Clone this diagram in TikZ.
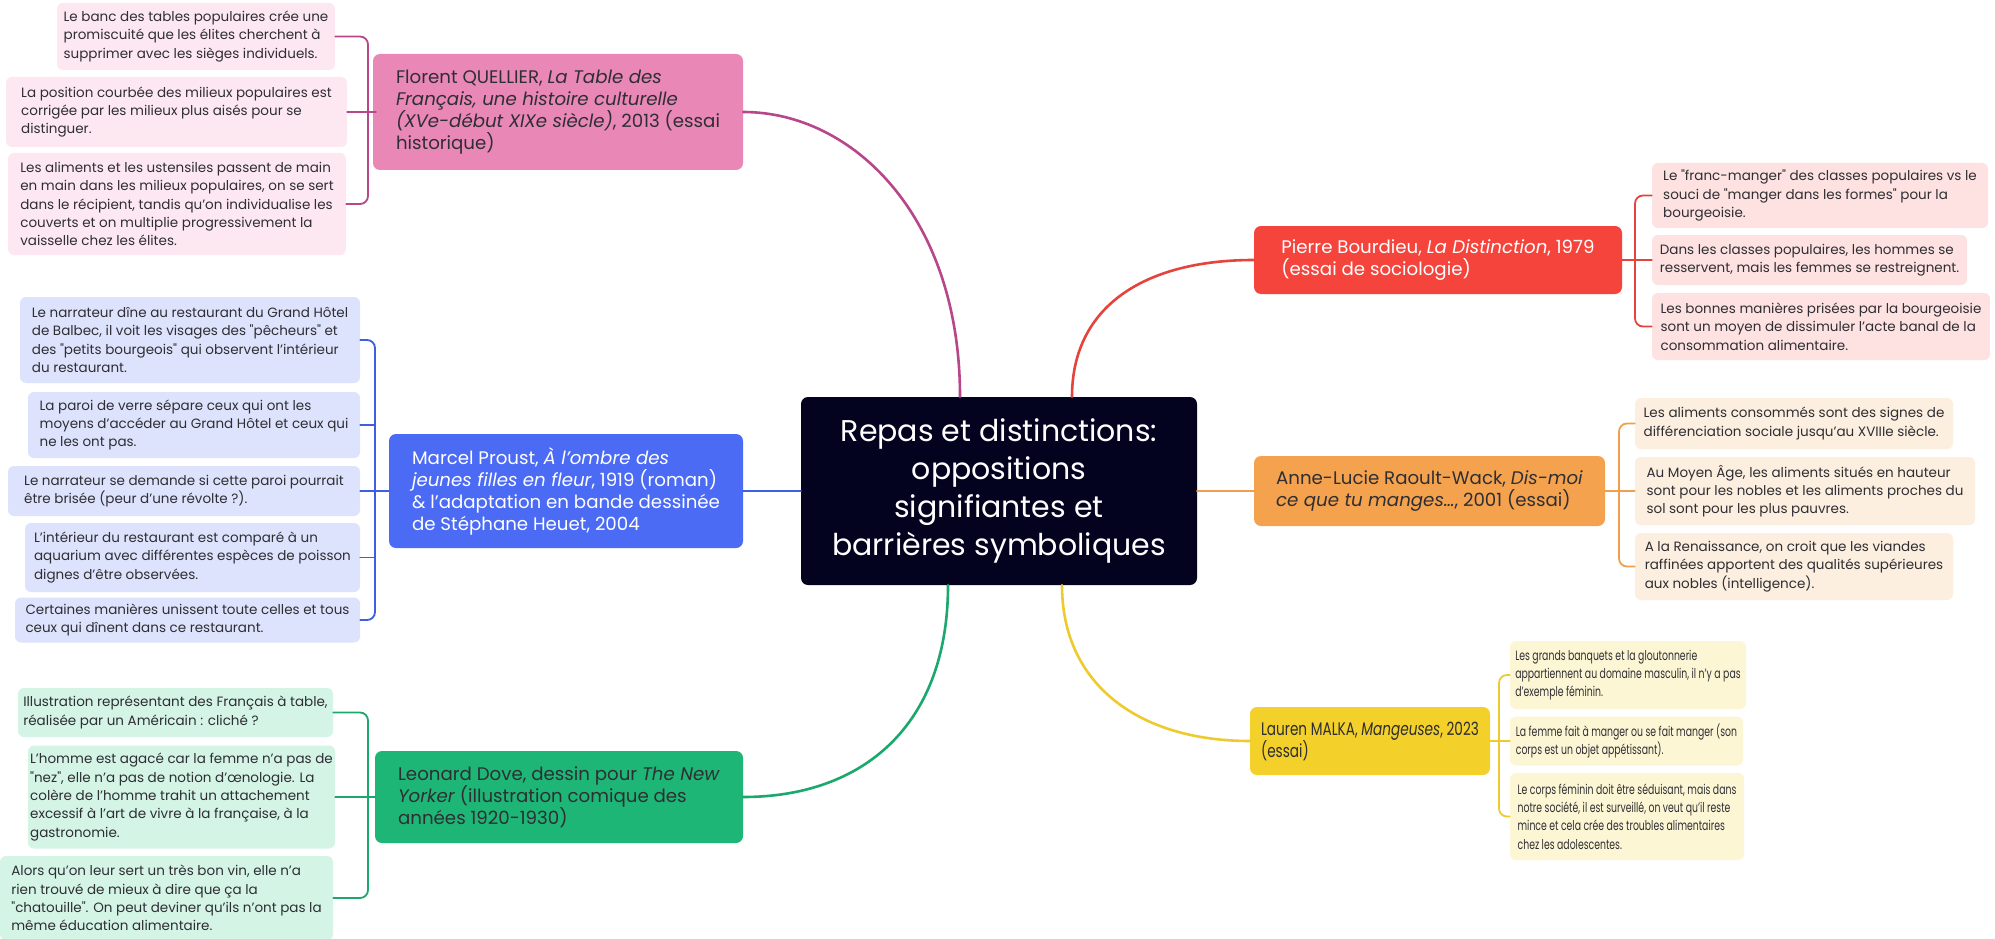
\documentclass[tikz,border=0pt]{standalone}
\usepackage{fontspec}
\setmainfont{Poppins}[Ligatures=TeXOff]
\newfontfamily\narrowfont{Poppins}[FakeStretch=0.69,Ligatures=TeXOff]
\newfontfamily\halfnarrow{Poppins}[FakeStretch=0.75,Ligatures=TeXOff]
\definecolor{hubfill}{HTML}{03021F}
\definecolor{leaftext}{HTML}{2E2E33}
\definecolor{qmain}{HTML}{E987B7}\definecolor{qleaf}{HTML}{FDE8F2}\definecolor{qline}{HTML}{B8468A}
\definecolor{pmain}{HTML}{4B6BF5}\definecolor{pleaf}{HTML}{DDE3FC}\definecolor{pline}{HTML}{3E5FE0}
\definecolor{dmain}{HTML}{1DB676}\definecolor{dleaf}{HTML}{D4F4E6}\definecolor{dline}{HTML}{1AA86C}
\definecolor{bmain}{HTML}{F5443C}\definecolor{bleaf}{HTML}{FDE2E1}\definecolor{bline}{HTML}{E5443D}
\definecolor{rmain}{HTML}{F5A24E}\definecolor{rleaf}{HTML}{FDEFE0}\definecolor{rline}{HTML}{F0A04C}
\definecolor{mmain}{HTML}{F3D02A}\definecolor{mleaf}{HTML}{FDF6D5}\definecolor{mline}{HTML}{EDCB2E}
\begin{document}
\begin{tikzpicture}[x=1pt,y=-1pt,line cap=round,line join=round,
	wh/.style 2 args={minimum width=#1pt,minimum height=#2pt},
	hub/.style={fill=hubfill,text=white,rounded corners=7pt,align=center,inner sep=0pt,font=\fontsize{30}{37.7}\selectfont},
	topic/.style={rounded corners=7pt,align=left,inner sep=0pt,font=\fontsize{18.2}{22}\selectfont},
	leaf/.style={rounded corners=6pt,align=left,inner sep=0pt,text=leaftext,font=\fontsize{13.5}{18.3}\selectfont},
	thin/.style={font=\narrowfont\fontsize{13.5}{18.3}\selectfont},
	branch/.style={line width=2.6pt},
	twig/.style={line width=1.8pt,rounded corners=8pt}]
	\fill[white] (0,0) rectangle (1995,939);
	\useasboundingbox (0,0) rectangle (1995,939);

	\node[hub,wh={396}{188}] (hub) at (999,491) {Repas et distinctions:\\oppositions\\signifiantes et\\barrières symboliques};

	\node[topic,fill=qmain,text=leaftext,wh={370}{116}] (quel) at (558,112) {Florent QUELLIER, \textit{La Table des}\\\textit{Français, une histoire culturelle}\\\textit{(XVe-début XIXe siècle)}, 2013 (essai\\historique)};
	\node[leaf,fill=qleaf,wh={278}{67}] (q1) at (196,36.5) {Le banc des tables populaires crée une\\promiscuité que les élites cherchent à\\supprimer avec les sièges individuels.};
	\node[leaf,fill=qleaf,wh={341}{70}] (q2) at (176.5,112) {La position courbée des milieux populaires est\\corrigée par les milieux plus aisés pour se\\distinguer.};
	\node[leaf,fill=qleaf,wh={338}{102}] (q3) at (177,204) {Les aliments et les ustensiles passent de main\\en main dans les milieux populaires, on se sert\\dans le récipient, tandis qu’on individualise les\\couverts et on multiplie progressivement la\\vaisselle chez les élites.};

	\node[topic,fill=pmain,text=white,wh={354}{114}] (prou) at (566,491) {Marcel Proust, \textit{À l’ombre des}\\\textit{jeunes filles en fleur}, 1919 (roman)\\\& l’adaptation en bande dessinée\\de Stéphane Heuet, 2004};
	\node[leaf,fill=pleaf,wh={340}{86}] (p1) at (190,340) {Le narrateur dîne au restaurant du Grand Hôtel\\de Balbec, il voit les visages des "pêcheurs" et\\des "petits bourgeois" qui observent l’intérieur\\du restaurant.};
	\node[leaf,fill=pleaf,wh={332}{66}] (p2) at (194,425) {La paroi de verre sépare ceux qui ont les\\moyens d’accéder au Grand Hôtel et ceux qui\\ne les ont pas.};
	\node[leaf,fill=pleaf,wh={352}{50}] (p3) at (184,491) {Le narrateur se demande si cette paroi pourrait\\être brisée (peur d’une révolte ?).};
	\node[leaf,fill=pleaf,wh={335}{69}] (p4) at (192.5,557.5) {L’intérieur du restaurant est comparé à un\\aquarium avec différentes espèces de poisson\\dignes d’être observées.};
	\node[leaf,fill=pleaf,wh={345}{45}] (p5) at (187.5,620) {Certaines manières unissent toute celles et tous\\ceux qui dînent dans ce restaurant.};

	\node[topic,fill=dmain,text=leaftext,wh={368}{92}] (dove) at (559,797) {Leonard Dove, dessin pour \textit{The New}\\\textit{Yorker} (illustration comique des\\années 1920-1930)};
	\node[leaf,fill=dleaf,wh={315}{49}] (d1) at (175.5,712.5) {Illustration représentant des Français à table,\\réalisée par un Américain : cliché ?};
	\node[leaf,fill=dleaf,wh={307}{103}] (d2) at (181.5,797) {L’homme est agacé car la femme n’a pas de\\"nez", elle n’a pas de notion d’œnologie. La\\colère de l’homme trahit un attachement\\excessif à l’art de vivre à la française, à la\\gastronomie.};
	\node[leaf,fill=dleaf,wh={333}{84}] (d3) at (166.5,898) {Alors qu’on leur sert un très bon vin, elle n’a\\rien trouvé de mieux à dire que ça la\\"chatouille". On peut deviner qu’ils n’ont pas la\\même éducation alimentaire.};

	\node[topic,fill=bmain,text=white,wh={368}{68}] (bour) at (1438,260) {Pierre Bourdieu, \textit{La Distinction}, 1979\\(essai de sociologie)};
	\node[leaf,fill=bleaf,wh={336}{65}] (b1) at (1820,195.5) {Le "franc-manger" des classes populaires vs le\\souci de "manger dans les formes" pour la\\bourgeoisie.};
	\node[leaf,fill=bleaf,wh={315}{50}] (b2) at (1809.5,260) {Dans les classes populaires, les hommes se\\resservent, mais les femmes se restreignent.};
	\node[leaf,fill=bleaf,wh={338}{67}] (b3) at (1821,326.5) {Les bonnes manières prisées par la bourgeoisie\\sont un moyen de dissimuler l’acte banal de la\\consommation alimentaire.};

	\node[topic,fill=rmain,text=leaftext,wh={351}{70}] (raou) at (1429.5,491) {Anne-Lucie Raoult-Wack, \textit{Dis-moi}\\\textit{ce que tu manges…}, 2001 (essai)};
	\node[leaf,fill=rleaf,wh={318}{51}] (r1) at (1794,423.5) {Les aliments consommés sont des signes de\\différenciation sociale jusqu’au XVIIIe siècle.};
	\node[leaf,fill=rleaf,wh={340}{68}] (r2) at (1805,491) {Au Moyen Âge, les aliments situés en hauteur\\sont pour les nobles et les aliments proches du\\sol sont pour les plus pauvres.};
	\node[leaf,fill=rleaf,wh={318}{67}] (r3) at (1794,566.5) {A la Renaissance, on croit que les viandes\\raffinées apportent des qualités supérieures\\aux nobles (intelligence).};

	\node[topic,fill=mmain,text=leaftext,wh={240}{68},font=\halfnarrow\fontsize{18.2}{22}\selectfont] (malk) at (1370,741) {Lauren MALKA, \textit{Mangeuses}, 2023\\(essai)};
	\node[leaf,thin,fill=mleaf,wh={236}{68}] (m1) at (1628,675) {Les grands banquets et la gloutonnerie\\appartiennent au domaine masculin, il n’y a pas\\d’exemple féminin.};
	\node[leaf,thin,fill=mleaf,wh={233}{49}] (m2) at (1626.5,741) {La femme fait à manger ou se fait manger (son\\corps est un objet appétissant).};
	\node[leaf,thin,fill=mleaf,wh={234}{87}] (m3) at (1627,816.5) {Le corps féminin doit être séduisant, mais dans\\notre société, il est surveillé, on veut qu’il reste\\mince et cela crée des troubles alimentaires\\chez les adolescentes.};

	\draw[branch,qline] ([xshift=-39pt]hub.north) .. controls +(0,-180) and +(110,0) .. (quel.east);
	\draw[branch,pline] (hub.west) -- (prou.east);
	\draw[branch,dline] ([xshift=-51pt]hub.south) .. controls +(0,140) and +(120,0) .. (dove.east);
	\draw[branch,bline] ([xshift=73pt]hub.north) .. controls +(0,-90) and +(-110,0) .. (bour.west);
	\draw[branch,rline] (hub.east) -- (raou.west);
	\draw[branch,mline] ([xshift=63pt]hub.south) .. controls +(0,100) and +(-110,0) .. (malk.west);

	\coordinate (qs) at (368,112);
	\draw[twig,qline] (q1.east) -| (qs) |- (q3.east);
	\draw[twig,qline] (q2.east) -- (qs) -- (quel.west);

	\coordinate (ps) at (375,491);
	\draw[twig,pline] (p1.east) -| (ps) |- (p5.east);
	\draw[twig,pline] (p2.east) -- (p2.east -| ps);
	\draw[twig,pline] (p4.east) -- (p4.east -| ps);
	\draw[twig,pline] (p3.east) -- (ps) -- (prou.west);

	\coordinate (ds) at (368,797);
	\draw[twig,dline] (d1.east) -| (ds) |- (d3.east);
	\draw[twig,dline] (d2.east) -- (ds) -- (dove.west);

	\coordinate (bs) at (1635,260);
	\draw[twig,bline] (b1.west) -| (bs) |- (b3.west);
	\draw[twig,bline] (bour.east) -- (bs) -- (b2.west);

	\coordinate (rs) at (1619,491);
	\draw[twig,rline] (r1.west) -| (rs) |- (r3.west);
	\draw[twig,rline] (raou.east) -- (rs) -- (r2.west);

	\coordinate (ms) at (1499,741);
	\draw[twig,mline] (m1.west) -| (ms) |- (m3.west);
	\draw[twig,mline] (malk.east) -- (ms) -- (m2.west);
\end{tikzpicture}
\end{document}
